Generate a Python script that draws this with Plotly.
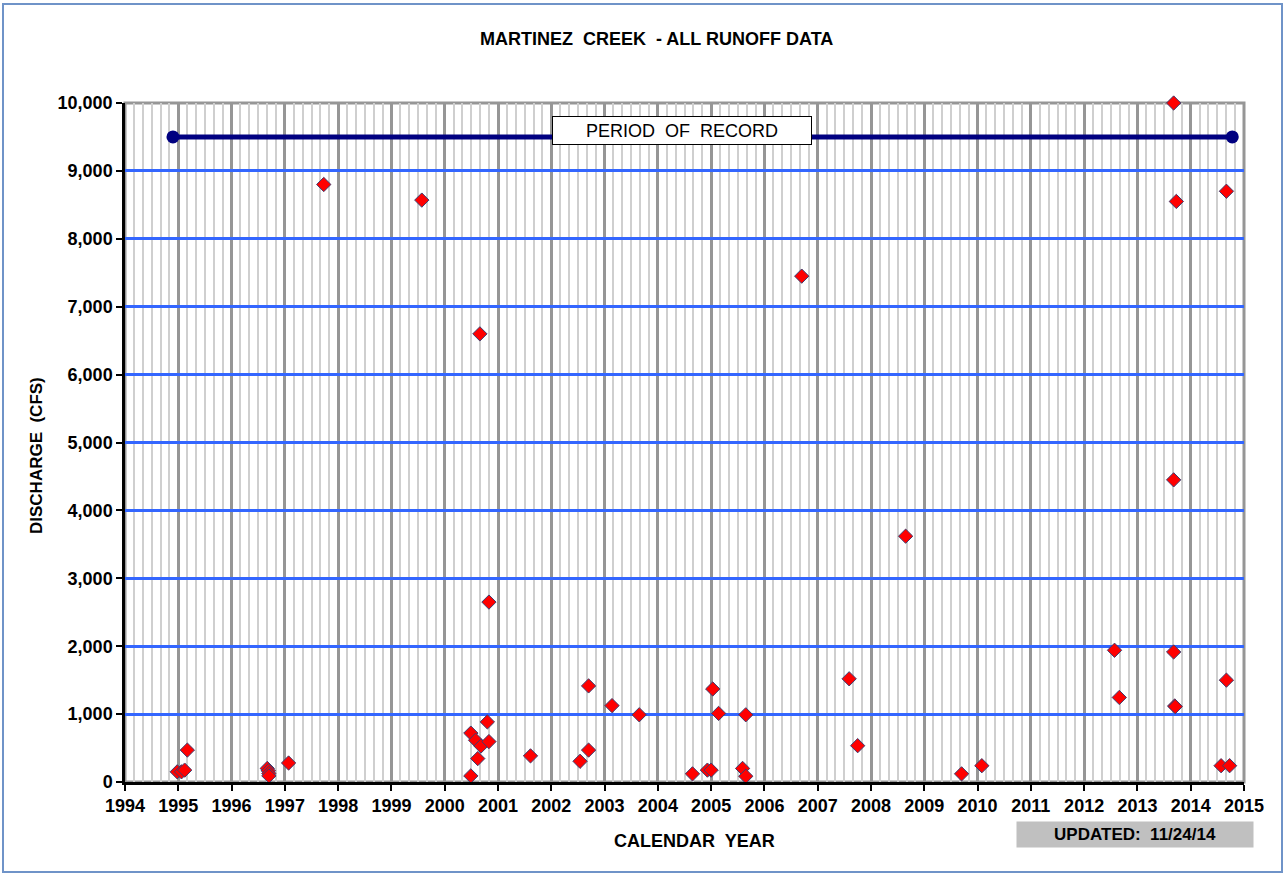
import plotly.graph_objects as go

# ---- data ----
years = [1994.98, 1995.06, 1995.12, 1995.17,
         1996.67, 1996.69, 1996.70, 1996.70,
         1997.07, 1997.73, 1999.57,
         2000.49, 2000.49, 2000.58, 2000.62, 2000.66, 2000.68, 2000.80, 2000.83, 2000.83,
         2001.61, 2002.54, 2002.70, 2002.70, 2003.14, 2003.65,
         2004.65, 2004.93, 2005.00, 2005.03, 2005.14, 2005.59, 2005.65, 2005.65,
         2006.70, 2007.59, 2007.75, 2008.65, 2009.70, 2010.08,
         2012.57, 2012.66,
         2013.68, 2013.73, 2013.68, 2013.68, 2013.70, 2013.71,
         2014.57, 2014.67, 2014.67, 2014.73]
discharge = [150, 150, 175, 470,
             200, 165, 125, 90,
             280, 8800, 8570,
             720, 90, 615, 345, 6600, 530, 885, 595, 2650,
             385, 305, 470, 1415, 1125, 990,
             120, 175, 175, 1370, 1010, 200, 85, 990,
             7450, 1520, 535, 3620, 120, 240,
             1940, 1245,
             10000, 8550, 4450, 1915, 1120, 1110,
             240, 8700, 1500, 240]
record_years = [1994.9, 2014.78]
record_level = [9500, 9500]
year_ticks = list(range(1994, 2016))
y_ticks = list(range(0, 10001, 1000))

# ---- layout geometry ----
W, H = 1286, 875
L, R, T, B = 125, 42, 103, 93
PW, PH = W - L - R, H - T - B

def px(x):
    return (x - L) / PW

def py(y):
    return (H - B - y) / PH

FONT = "Arial, Liberation Sans, sans-serif"

fig = go.Figure()
fig.add_trace(go.Scatter(
    x=record_years, y=record_level, mode="lines+markers",
    line=dict(color="#000080", width=5),
    marker=dict(symbol="circle", size=13, color="#000080"),
    cliponaxis=False, showlegend=False, hoverinfo="skip"))
fig.add_trace(go.Scatter(
    x=years, y=discharge, mode="markers",
    marker=dict(symbol="diamond", size=11, color="#ff0000",
                line=dict(color="#3c3c6e", width=1)),
    cliponaxis=False, showlegend=False))

fig.update_xaxes(
    range=[1994, 2015], tickvals=year_ticks, ticktext=[str(v) for v in year_ticks],
    showgrid=True, gridcolor="#969696", gridwidth=2.5,
    minor=dict(dtick=1/6, tick0=1994, showgrid=True, gridcolor="#cfcfcf", gridwidth=2),
    showline=True, linecolor="black", linewidth=2.5,
    ticks="outside", ticklen=6, tickwidth=2, tickcolor="black",
    tickfont=dict(family=FONT, size=18, color="black", weight="bold"),
    zeroline=False, fixedrange=True)
fig.update_yaxes(
    range=[0, 10000], tickvals=y_ticks, tickformat=",d",
    showgrid=True, gridcolor="#3366ff", gridwidth=2.5,
    showline=True, linecolor="black", linewidth=2.5,
    ticks="outside", ticklen=6, tickwidth=2, tickcolor="black",
    tickfont=dict(family=FONT, size=18, color="black", weight="bold"),
    zeroline=False, fixedrange=True)

shapes = [
    # plot frame top/right (gray)
    dict(type="rect", xref="paper", yref="paper", x0=0, x1=1, y0=0, y1=1,
         line=dict(color="#969696", width=3), layer="between"),
    # outer chart border
    dict(type="rect", xref="paper", yref="paper", x0=px(3), x1=px(1282), y0=py(872), y1=py(4),
         line=dict(color="#6f93c8", width=2), layer="below"),
]

annotations = [
    dict(text="MARTINEZ  CREEK  - ALL RUNOFF DATA", x=px(656), y=py(39), xref="paper", yref="paper",
         showarrow=False, xanchor="center", yanchor="middle",
         font=dict(family=FONT, size=18, color="black", weight="bold")),
    dict(text="CALENDAR  YEAR", x=px(694), y=py(841), xref="paper", yref="paper",
         showarrow=False, xanchor="center", yanchor="middle",
         font=dict(family=FONT, size=18, color="black", weight="bold")),
    dict(text="DISCHARGE  (CFS)", x=px(37), y=py(456), xref="paper", yref="paper",
         showarrow=False, xanchor="center", yanchor="middle", textangle=-90,
         font=dict(family=FONT, size=17, color="black", weight="bold")),
    dict(text="PERIOD  OF  RECORD", x=px(682), y=py(130.5), xref="paper", yref="paper",
         showarrow=False, xanchor="center", yanchor="middle",
         width=256, height=25, bgcolor="white", bordercolor="black", borderwidth=1, borderpad=1,
         font=dict(family=FONT, size=18, color="black")),
    dict(text="UPDATED:  11/24/14", x=px(1135), y=py(834.5), xref="paper", yref="paper",
         showarrow=False, xanchor="center", yanchor="middle",
         width=236, height=25, bgcolor="#c0c0c0", borderpad=0,
         font=dict(family=FONT, size=17, color="black", weight="bold")),
]

fig.update_layout(
    width=W, height=H, autosize=False,
    margin=dict(l=L, r=R, t=T, b=B, pad=0),
    paper_bgcolor="white", plot_bgcolor="white",
    shapes=shapes, annotations=annotations,
    showlegend=False)

fig.write_html("out.html", config={"displayModeBar": False},
               post_script="document.body.style.margin='0';document.body.style.overflow='hidden';")
